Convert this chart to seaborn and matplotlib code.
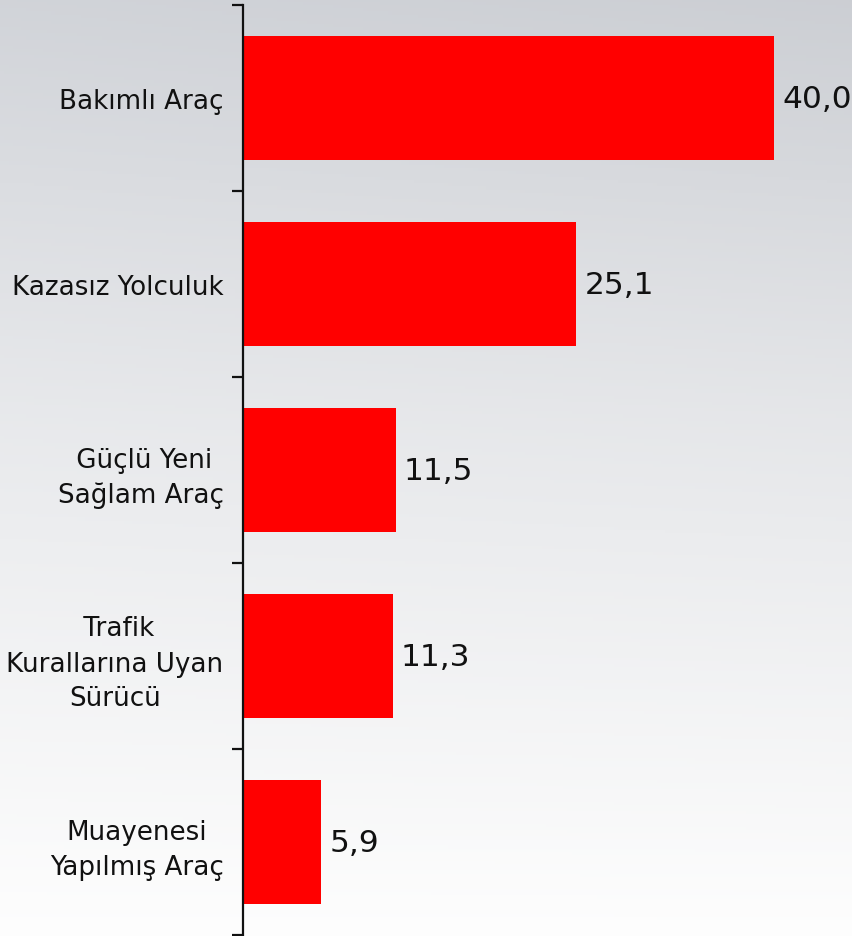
import numpy as np
import pandas as pd
import matplotlib
matplotlib.use("Agg")
import matplotlib.pyplot as plt
import seaborn as sns

categories = ["Bakımlı Araç", "Kazasız Yolculuk", " Güçlü Yeni\nSağlam Araç",
              " Trafik\nKurallarına Uyan\nSürücü", "Muayenesi\nYapılmış Araç"]
values = [40.0, 25.1, 11.5, 11.3, 5.9]
value_labels = ["40,0", "25,1", "11,5", "11,3", "5,9"]

df = pd.DataFrame({"kategori": categories, "deger": values})

sns.set_theme(style="white")
plt.rcParams["font.family"] = ["DejaVu Sans"]

fig = plt.figure(figsize=(8.53, 9.37), dpi=100)

# background gradient
bg = fig.add_axes([0, 0, 1, 1], zorder=-10)
h = 300
yy = np.linspace(0, 1, h)[:, None]
xx = np.linspace(0, 1, 200)[None, :]
top = np.array([0.82, 0.83, 0.85])
mid = np.array([0.91, 0.915, 0.925])
bot = np.array([0.995, 0.995, 0.995])
t = yy
col = np.where(t[..., None] < 0.45,
               top + (mid - top) * (t[..., None] / 0.45),
               mid + (bot - mid) * ((t[..., None] - 0.45) / 0.55))
img = np.broadcast_to(col, (h, 200, 3)).copy()
img = img - 0.02 * (1 - yy[..., None]) * xx[..., None]
bg.imshow(np.clip(img, 0, 1), aspect="auto", extent=[0, 1, 0, 1], origin="upper")
bg.axis("off")

ax = fig.add_axes([243 / 853, 1 - 936 / 937, 1 - 243 / 853, 930 / 937])
ax.patch.set_alpha(0)
sns.barplot(data=df, y="kategori", x="deger", orient="h", color="#ff0000",
            saturation=1, width=0.667, linewidth=0, edgecolor="none", ax=ax)

for i, (v, lab) in enumerate(zip(values, value_labels)):
    ax.text(v + 0.6, i, lab, va="center", ha="left", fontsize=22.5, color="#111111")

ax.set_xlim(0, 610 / 13.28)
ax.set_ylim(4.5, -0.5)
ax.set_xlabel("")
ax.set_ylabel("")
ax.xaxis.set_visible(False)
for s in ["top", "right", "bottom"]:
    ax.spines[s].set_visible(False)
ax.spines["left"].set_linewidth(1.6)
ax.spines["left"].set_color("#111111")
ax.set_yticks(np.arange(-0.5, 5.0, 1.0), minor=True)
ax.tick_params(axis="y", which="major", length=0, pad=14, labelsize=18.8, labelcolor="#111111")
ax.tick_params(axis="y", which="minor", length=8, width=1.6, color="#111111", left=True)
for lbl in ax.get_yticklabels():
    lbl.set_multialignment("center")
    lbl.set_linespacing(1.45)

fig.savefig("out.png", dpi=100)
